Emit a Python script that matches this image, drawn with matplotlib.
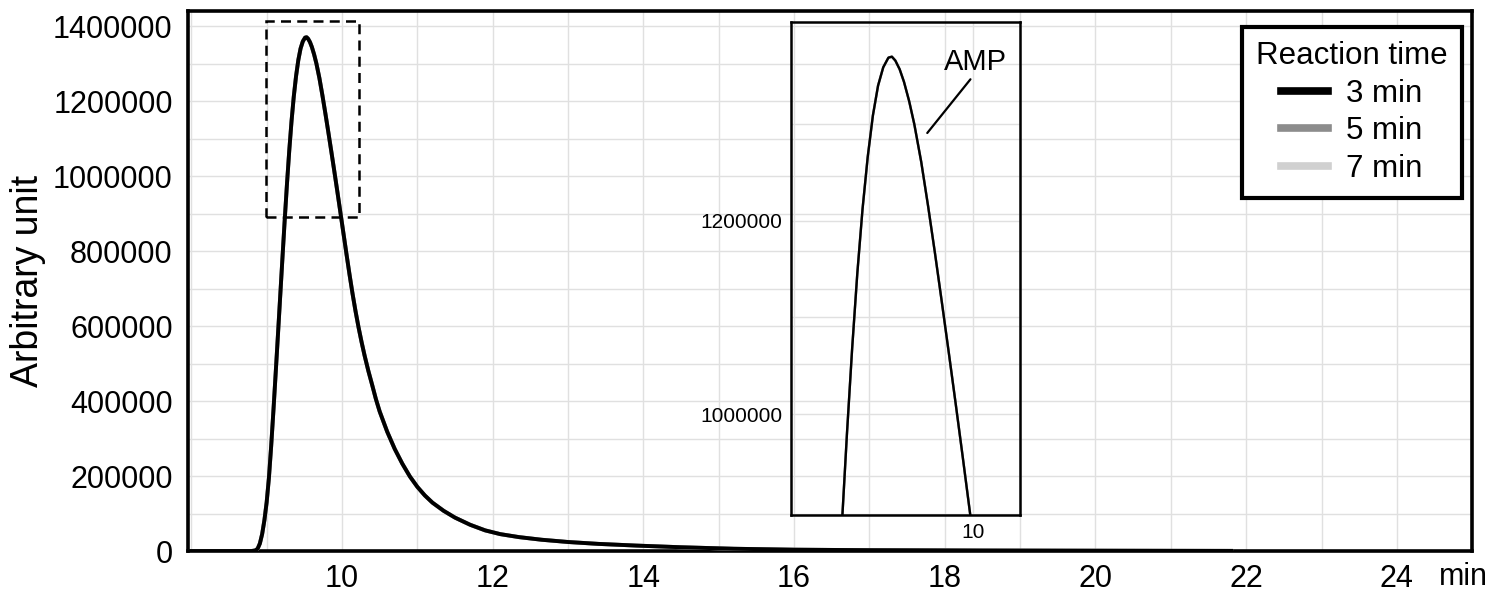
import matplotlib
matplotlib.use("Agg")
import matplotlib.pyplot as plt
from matplotlib.ticker import MultipleLocator
from matplotlib.patches import Rectangle

plt.rcParams['font.family'] = ['Liberation Sans', 'DejaVu Sans']

# retention time (min) and detector signal
time = [7.95, 8.5, 8.80, 8.85, 8.88, 8.91, 8.94, 8.97, 9.00, 9.03, 9.06, 9.09,
        9.12, 9.15, 9.18, 9.21, 9.24, 9.27, 9.30, 9.33, 9.36, 9.39, 9.42,
        9.45, 9.48, 9.51, 9.53, 9.55, 9.575, 9.60, 9.63, 9.66, 9.70, 9.74,
        9.78, 9.82, 9.86, 9.90, 9.94, 9.98, 10.02, 10.06, 10.10, 10.14, 10.18,
        10.22, 10.26, 10.30, 10.35, 10.40, 10.45, 10.50, 10.60, 10.70, 10.80,
        10.90, 11.00, 11.10, 11.20, 11.35, 11.50, 11.70, 11.90, 12.10, 12.35,
        12.65, 13.0, 13.4, 13.9, 14.5, 15.2, 16.0, 17.0, 18.5, 20.0, 21.8]
signal_3min = [0, 0, 0, 1500, 6000, 20000, 45000, 82000, 130000, 195000,
               280000, 375000, 475000, 577000, 680000, 783000, 884000, 980000,
               1068000, 1146000, 1212000, 1266000, 1309000, 1340000, 1359000,
               1369000, 1370000, 1366000, 1357000, 1344000, 1324000, 1300000,
               1261000, 1215000, 1166000, 1115000, 1063000, 1010000, 956000,
               901000, 846000, 791000, 737000, 686000, 639000, 596000, 557000,
               521000, 480000, 443000, 405000, 372000, 318000, 272000, 233000,
               199000, 171000, 148000, 129000, 107000, 89000, 70000, 55000,
               45000, 37000, 30000, 24000, 19000, 14500, 10000, 6000, 3500,
               2200, 1300, 800, 300]
# the three traces overlap completely in the figure
signal_5min = list(signal_3min)
signal_7min = list(signal_3min)

labels = ['3 min', '5 min', '7 min']
colors = ['#000000', '#8c8c8c', '#d0d0d0']
series = [signal_3min, signal_5min, signal_7min]

x_ticks = [10, 12, 14, 16, 18, 20, 22, 24]
y_ticks = [0, 200000, 400000, 600000, 800000, 1000000, 1200000, 1400000]

# zoom window (dashed box) and inset ranges
box_x = (8.99, 10.226)
box_y = (892000, 1413000)
inset_xlim = (8.943, 10.272)
inset_ylim = (895500, 1405600)

fig = plt.figure(figsize=(15.03, 5.96), dpi=100)
ax = fig.add_axes([0.12508, 0.0755, 0.85429, 0.90604])

lines = {}
for lab, col, sig in reversed(list(zip(labels, colors, series))):
    lines[lab], = ax.plot(time, sig, color=col, lw=2.8, label=lab, zorder=3)

ax.set_xlim(7.956, 24.997)
ax.set_ylim(0, 1440000)
ax.set_xticks(x_ticks)
ax.set_xticklabels([str(t) for t in x_ticks])
ax.xaxis.set_minor_locator(MultipleLocator(1))
ax.set_yticks(y_ticks)
ax.set_yticklabels([str(v) for v in y_ticks])
ax.yaxis.set_minor_locator(MultipleLocator(100000))
ax.grid(True, which='both', color='#e0e0e0', lw=1.0, zorder=0)
ax.tick_params(which='both', length=0, labelsize=22)
ax.tick_params(axis='x', pad=9)
ax.tick_params(axis='y', pad=11)
for s in ax.spines.values():
    s.set_linewidth(2.6)

ax.set_ylabel('Arbitrary unit', fontsize=27, va='center')
ax.yaxis.set_label_coords(-0.1246, 0.5)
fig.text(1463 / 1503, 1 - 577 / 596, 'min', fontsize=22, ha='center', va='center')

ax.add_patch(Rectangle((box_x[0], box_y[0]), box_x[1] - box_x[0], box_y[1] - box_y[0],
                       fill=False, ec='black', lw=1.8, ls=(0, (4, 2.5)), zorder=4))

leg = ax.legend(handles=[lines[l] for l in labels], title='Reaction time',
                loc='upper right', bbox_to_anchor=(0.992, 0.970), borderaxespad=0,
                fontsize=22.5, title_fontsize=22.5, frameon=True, fancybox=False,
                edgecolor='black', framealpha=1, handlelength=1.5,
                handletextpad=0.6, labelspacing=0.24, borderpad=0.45)
leg.get_frame().set_linewidth(3)
for h in leg.legend_handles:
    h.set_linewidth(5.5)

# inset
axi = fig.add_axes([0.52595, 0.13591, 0.15270, 0.82668])
axi.patch.set_alpha(0)
for lab, col, sig in reversed(list(zip(labels, colors, series))):
    axi.plot(time, sig, color=col, lw=1.7)
axi.set_xlim(*inset_xlim)
axi.set_ylim(*inset_ylim)
axi.set_xticks([10])
axi.set_xticklabels(['10'])
axi.set_yticks([1000000, 1200000])
axi.set_yticklabels(['1000000', '1200000'])
axi.set_yticks([1100000, 1300000], minor=True)
axi.grid(True, which='both', color='#e0e0e0', lw=1.0)
axi.tick_params(which='both', length=0, labelsize=15, pad=6)
for s in axi.spines.values():
    s.set_linewidth(1.8)

axi.text(10.015, 1365000, 'AMP', fontsize=21, ha='center', va='center')
axi.annotate('', xy=(9.735, 1291000), xytext=(9.985, 1346600),
             arrowprops=dict(arrowstyle='-', lw=1.6, shrinkA=0, shrinkB=0))

fig.savefig('out.png', dpi=100)
